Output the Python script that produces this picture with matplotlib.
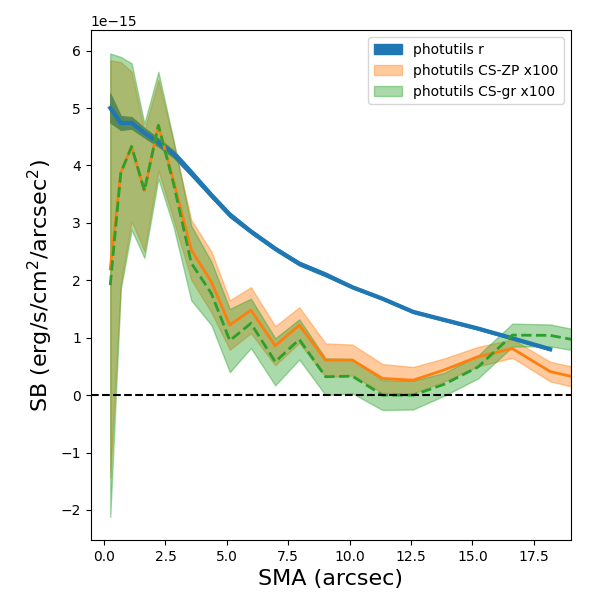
import numpy as np
import matplotlib
matplotlib.use('Agg')
import matplotlib.pyplot as plt

# SMA grid in arcsec
sma = np.array([0.25, 0.68, 1.12, 1.64, 2.21, 2.83, 3.55, 4.37, 5.12, 5.98,
                6.97, 7.95, 9.02, 10.11, 11.34, 12.59, 13.86, 15.23, 16.63,
                18.17, 19.8])

# photutils r profile (first 20 radii only)
sb_r = np.array([5.00, 4.74, 4.74, 4.57, 4.40, 4.20, 3.87, 3.48, 3.14, 2.85,
                 2.55, 2.29, 2.10, 1.88, 1.68, 1.45, 1.31, 1.16, 0.99, 0.80]) * 1e-15
err_r = np.array([0.25, 0.12, 0.10, 0.08, 0.07, 0.06, 0.05, 0.04, 0.04, 0.03,
                  0.03, 0.03, 0.03, 0.02, 0.02, 0.02, 0.02, 0.02, 0.02, 0.02]) * 1e-15

# CS-ZP x100
sb_zp = np.array([2.20, 3.87, 4.33, 3.56, 4.70, 3.73, 2.53, 1.97, 1.22, 1.48,
                  0.86, 1.22, 0.61, 0.61, 0.29, 0.26, 0.44, 0.67, 0.81, 0.41,
                  0.25]) * 1e-15
err_zp = np.array([3.63, 1.93, 1.30, 1.05, 0.79, 0.68, 0.52, 0.53, 0.43, 0.40,
                   0.34, 0.31, 0.29, 0.27, 0.25, 0.23, 0.20, 0.17, 0.16, 0.17,
                   0.18]) * 1e-15

# CS-gr x100
sb_gr = np.array([1.915, 3.87, 4.33, 3.56, 4.70, 3.68, 2.30, 1.77, 0.95, 1.25,
                  0.58, 0.97, 0.32, 0.33, 0.00, 0.00, 0.19, 0.49, 1.045, 1.04,
                  0.91]) * 1e-15
err_gr = np.array([4.035, 2.02, 1.45, 1.17, 0.93, 0.75, 0.65, 0.55, 0.55, 0.43,
                   0.41, 0.35, 0.32, 0.30, 0.26, 0.25, 0.20, 0.20, 0.20, 0.19,
                   0.18]) * 1e-15

fig, ax = plt.subplots(figsize=(6, 6), dpi=100)
fig.subplots_adjust(left=0.151, right=0.951, bottom=0.1, top=0.9495)

n = len(sb_r)
ax.fill_between(sma[:n], sb_r - err_r, sb_r + err_r, color='C0', label='photutils r')
ax.plot(sma[:n], sb_r, color='C0', lw=3)

ax.fill_between(sma, sb_zp - err_zp, sb_zp + err_zp, color='C1', alpha=0.4,
                label='photutils CS-ZP x100')
ax.plot(sma, sb_zp, color='C1', lw=2)

ax.fill_between(sma, sb_gr - err_gr, sb_gr + err_gr, color='C2', alpha=0.4,
                label='photutils CS-gr x100')
ax.plot(sma, sb_gr, color='C2', lw=2, ls='--')

ax.axhline(0, color='k', ls='--', lw=1.5)

ax.set_xlim(-0.55, 19)
ax.set_xlabel('SMA (arcsec)', fontsize=16)
ax.set_ylabel('SB (erg/s/cm$^2$/arcsec$^2$)', fontsize=16)
ax.legend(loc='upper right')

fig.savefig('out.png', dpi=100)
